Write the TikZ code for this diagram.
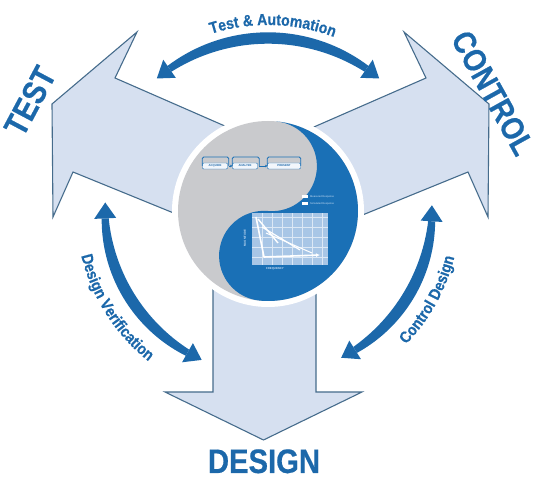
\documentclass[tikz,border=0pt]{standalone}
\usepackage{fontspec}
\setmainfont{Liberation Sans}
\newfontfamily\lcond[FakeStretch=0.88,FakeBold=0.6]{Liberation Sans}
\newfontfamily\bcond[FakeStretch=0.86,FakeBold=0.5]{Liberation Sans}
\usetikzlibrary{decorations.text,arrows.meta}
\definecolor{mblue}{RGB}{28,104,170}
\definecolor{yblue}{RGB}{26,112,182}
\definecolor{afill}{RGB}{214,224,240}
\definecolor{aline}{RGB}{70,108,140}
\definecolor{dgrey}{RGB}{201,202,205}
\definecolor{cfill}{RGB}{168,198,230}
\definecolor{ltxt}{RGB}{200,222,244}
\newcommand\tbig{\bcond\bfseries\fontsize{33}{33}\selectfont}
\newcommand\arclab{\lcond\bfseries\fontsize{16}{16}\selectfont}
\begin{document}
\begin{tikzpicture}[x=1pt,y=1pt,
  bigarrow/.style={fill=afill,draw=aline,line width=1.1pt,line join=miter},
  biglabel/.style={font=\tbig,text=mblue,inner sep=0pt},
  flowbox/.style={draw=yblue,fill=white!85!cfill,rounded corners=1pt,inner sep=0.6pt,minimum height=6pt,font=\fontsize{2.8}{3}\selectfont\bfseries,text=mblue},
  flowline/.style={draw=yblue,line width=0.8pt},
  declare function={hw(\t,\m,\s)=3.5+2.2*(1-((\t-\m)/\s)^2);}]
\useasboundingbox (0,0) rectangle (539,479);
\coordinate (C) at (268,268);

% three big arrows
\path[bigarrow] (52,375) -- (137,447) -- (115,401) -- (250,342) -- (230,243) -- (73,307) -- (53,262) -- cycle;
\path[bigarrow] (489,375) -- (404,447) -- (426,401) -- (291,342) -- (311,243) -- (468,307) -- (488,262) -- cycle;
\path[bigarrow] (263.5,39) -- (165,87) -- (213,87) -- (213,260) -- (316,260) -- (316,87) -- (362,87) -- cycle;

% central disc
\fill[white] (C) circle (96);
\fill[dgrey] (C) circle (90);
\begin{scope}[shift={(268,268)},rotate=-5]
\fill[yblue] (0,90) arc[start angle=90,end angle=-90,radius=90]
  arc[start angle=-90,end angle=-270,radius=45]
  arc[start angle=-90,end angle=90,radius=45] -- cycle;
\end{scope}

% flow diagram
\node[flowbox,minimum width=25pt] (acq) at (215,313) {ACQUIRE};
\node[flowbox,minimum width=25pt] (ana) at (245,313) {ANALYZE};
\node[flowbox,minimum width=33pt] (pre) at (284,313) {PRESENT};
\draw[flowline,rounded corners=1.5pt] (acq.west) -- ++(0,9) -| ([xshift=1pt]acq.east) ;
\draw[flowline,-{Latex[length=2pt,width=3pt]}] ([xshift=1pt]acq.east) -- (ana.west);
\draw[flowline,rounded corners=1.5pt] (ana.west) -- ++(0,9) -| ([xshift=1.5pt]ana.east);
\draw[flowline,-{Latex[length=2pt,width=3pt]}] ([xshift=1.5pt]ana.east) -- (pre.west);
\draw[flowline,rounded corners=1.5pt] (pre.west) -- ++(0,9) -| (pre.east);

% legend
\fill[white] (302,281) rectangle (308,284);
\fill[white] (302,274) rectangle (308,277);
\node[anchor=west,inner sep=0pt,font=\fontsize{2.6}{3}\selectfont,text=ltxt] (leg1) at (310,282.5) {Measured Response};
\node[anchor=west,inner sep=0pt,font=\fontsize{2.6}{3}\selectfont,text=ltxt] (leg2) at (310,275.5) {Simulated Response};

% chart
\fill[cfill] (252,214) rectangle (328,266);
\foreach \gx in {262,272,282,292,302,312,322} \draw[white!60!cfill,line width=0.3pt] (\gx,214) -- (\gx,266);
\foreach \gy in {222,232,242,252,262} \draw[white!60!cfill,line width=0.3pt] (252,\gy) -- (328,\gy);
\coordinate (O) at (264,222);
\draw[white,line width=1.6pt] (O) -- (256,262);
\draw[white,line width=1.4pt] (258,260) -- (278,236);
\draw[white,line width=1.2pt] (262,252) -- (300,229);
\draw[white,line width=1pt] (266,246) -- (312,226);
\draw[white,line width=1.6pt,-{Latex[length=4pt,width=4pt]}] (O) -- (320,224);
\node[rotate=90,inner sep=0pt,font=\fontsize{2.8}{3}\selectfont\bfseries,text=ltxt] (ylab) at (245,241) {MAGNITUDE};
\node[inner sep=0pt,font=\fontsize{2.8}{3}\selectfont\bfseries,text=ltxt] (xlab) at (275,210) {FREQUENCY};

% curved double arrows (tapered)
\fill[mblue] plot[domain=124.7:55.3,samples=40] ({268+(173+hw(\x,90,34.7))*cos(\x)},{268+(173+hw(\x,90,34.7))*sin(\x)})
  -- plot[domain=55.3:124.7,samples=40] ({268+(173-hw(\x,90,34.7))*cos(\x)},{268+(173-hw(\x,90,34.7))*sin(\x)}) -- cycle;
\fill[mblue] ([shift={(268,268)}]130:173) -- ([shift={(268,268)}]124.7:184) -- ([shift={(268,268)}]124.7:162) -- cycle;
\fill[mblue] ([shift={(268,268)}]50:173) -- ([shift={(268,268)}]55.3:184) -- ([shift={(268,268)}]55.3:162) -- cycle;
\fill[mblue] plot[domain=182.6:240.4,samples=40] ({268+(163+hw(\x,211.5,28.9))*cos(\x)},{268+(163+hw(\x,211.5,28.9))*sin(\x)})
  -- plot[domain=240.4:182.6,samples=40] ({268+(163-hw(\x,211.5,28.9))*cos(\x)},{268+(163-hw(\x,211.5,28.9))*sin(\x)}) -- cycle;
\fill[mblue] ([shift={(268,268)}]177:163) -- ([shift={(268,268)}]182.6:174) -- ([shift={(268,268)}]182.6:152) -- cycle;
\fill[mblue] ([shift={(268,268)}]246:163) -- ([shift={(268,268)}]240.4:174) -- ([shift={(268,268)}]240.4:152) -- cycle;
\fill[mblue] plot[domain=-3.6:-57.9,samples=40] ({268+(164+hw(\x,-30.75,27.15))*cos(\x)},{268+(164+hw(\x,-30.75,27.15))*sin(\x)})
  -- plot[domain=-57.9:-3.6,samples=40] ({268+(164-hw(\x,-30.75,27.15))*cos(\x)},{268+(164-hw(\x,-30.75,27.15))*sin(\x)}) -- cycle;
\fill[mblue] ([shift={(268,268)}]2:164) -- ([shift={(268,268)}]-3.6:175) -- ([shift={(268,268)}]-3.6:153) -- cycle;
\fill[mblue] ([shift={(268,268)}]-63.5:164) -- ([shift={(268,268)}]-57.9:175) -- ([shift={(268,268)}]-57.9:153) -- cycle;

% arc labels
\path[decorate,decoration={text along path,text color=mblue,text align=center,
  text={|\arclab|Test {\&} Automation}}]
  ([shift={(268,268)}]129:186) arc[start angle=129,end angle=48,radius=186];
\path[decorate,decoration={text along path,text color=mblue,text align=center,
  text={|\arclab|Design Verification}}]
  ([shift={(268,268)}]180:192) arc[start angle=180,end angle=245,radius=192];
\path[decorate,decoration={text along path,text color=mblue,text align=center,
  text={|\arclab|Control Design}}]
  ([shift={(268,268)}]298:192) arc[start angle=298,end angle=364,radius=192];

% big labels
\node[biglabel,rotate=62] (test) at (30,378) {TEST};
\node[biglabel,font=\bcond\bfseries\fontsize{32}{32}\selectfont,rotate=-61] (control) at (493,386) {CONTROL};
\node[biglabel,font=\bcond\bfseries\fontsize{34}{34}\selectfont,anchor=base] (design) at (264,6) {DESIGN};
\end{tikzpicture}
\end{document}
